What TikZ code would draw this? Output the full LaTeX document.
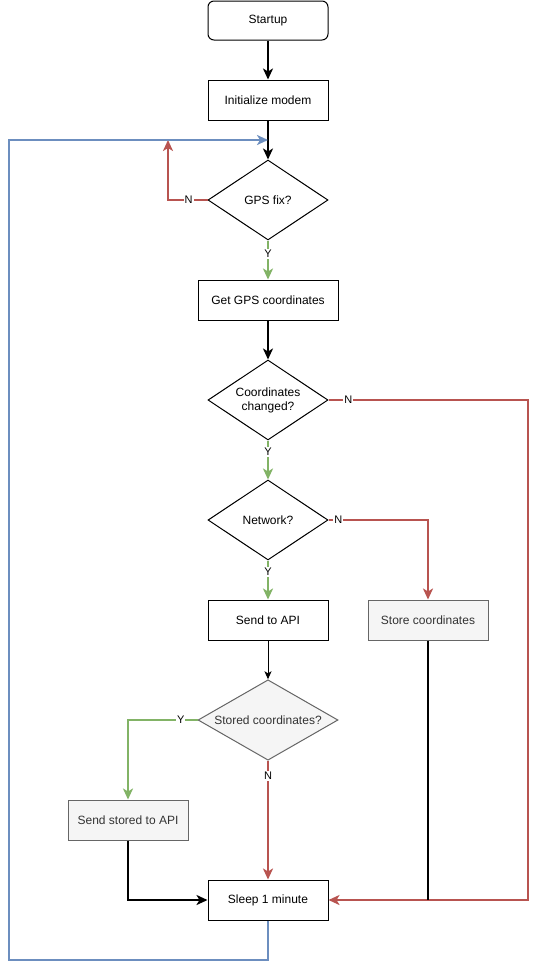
\documentclass[tikz,border=0pt]{standalone}
\usepackage{fontspec}
\setmainfont{Liberation Sans}
\usetikzlibrary{arrows.meta,shapes.geometric}
\definecolor{redS}{HTML}{B85450}
\definecolor{greenS}{HTML}{82B366}
\definecolor{blueS}{HTML}{6C8EBF}
\definecolor{grayF}{HTML}{F5F5F5}
\definecolor{grayS}{HTML}{666666}
\definecolor{grayT}{HTML}{333333}
\begin{document}
\begin{tikzpicture}[x=1pt,y=-1pt,
  every node/.style={font=\fontsize{12}{14}\selectfont},
  box/.style={draw=black,line width=1pt,minimum width=120pt,minimum height=40pt,inner sep=0pt,align=center},
  graybox/.style={box,draw=grayS,fill=grayF,text=grayT},
  dia/.style={diamond,draw=black,line width=1pt,aspect=1.5,minimum width=120pt,minimum height=80pt,inner sep=0pt,align=center},
  edge/.style={line width=2pt,-{Stealth[length=11pt,width=10pt,inset=3pt]}},
  elabel/.style={fill=white,inner sep=1pt,font=\fontsize{11}{12}\selectfont},
  redE/.style={edge,draw=redS},
  greenE/.style={edge,draw=greenS},
  blueE/.style={edge,draw=blueS},
  blackE/.style={edge,draw=black},
  thinE/.style={draw=black,line width=1pt,-{Stealth[length=8pt,width=7pt,inset=2pt]}}
]
\useasboundingbox (0,0) rectangle (537,970);
\fill[white] (0,0) rectangle (537,970);

\node[box,rounded corners=6pt,minimum height=39pt] (start) at (268,20.5) {Startup};
\node[box] (init) at (268,100) {Initialize modem};
\node[dia] (gps) at (268,200) {GPS fix?};
\node[box,minimum width=140pt] (getgps) at (268,300) {Get GPS coordinates};
\node[dia] (chg) at (268,400) {Coordinates\\changed?};
\node[dia] (net) at (268,520) {Network?};
\node[box] (send) at (268,620) {Send to API};
\node[graybox] (store) at (428,620) {Store coordinates};
\node[dia,draw=grayS,fill=grayF,text=grayT,minimum width=140pt] (stored) at (268,720) {Stored coordinates?};
\node[graybox] (sendst) at (128,820) {Send stored to API};
\node[box] (sleep) at (268,900) {Sleep 1 minute};

\coordinate (loopin) at (268,140);
\coordinate (nin) at (168,140);

\draw[blackE] (start) -- (init);
\draw[blackE] (init) -- (gps);
\draw[greenE] (gps) -- node[elabel,pos=0.35]{Y} (getgps);
\draw[redE] (gps.west) -| node[elabel,pos=0.24]{N} (nin);
\draw[blackE] (getgps) -- (chg);
\draw[greenE] (chg) -- node[elabel,pos=0.3]{Y} (net);
\draw[redE] (chg.east) -- node[elabel,pos=0.1]{N} (528,400) |- (sleep.east);
\draw[greenE] (net) -- node[elabel,pos=0.3]{Y} (send);
\draw[redE] (net.east) -| node[elabel,pos=0.05]{N} (store.north);
\draw[thinE] (send) -- (stored);
\draw[black,line width=2pt] (store.south) -- (428,900);
\draw[greenE] (stored.west) -| node[elabel,pos=0.12]{Y} (sendst.north);
\draw[redE] (stored.south) -- node[elabel,pos=0.13]{N} (sleep.north);
\draw[blackE] (sendst.south) |- (sleep.west);
\draw[blueE] (sleep.south) -- (268,960) -- (9,960) -- (9,140) -- (loopin);
\end{tikzpicture}
\end{document}
